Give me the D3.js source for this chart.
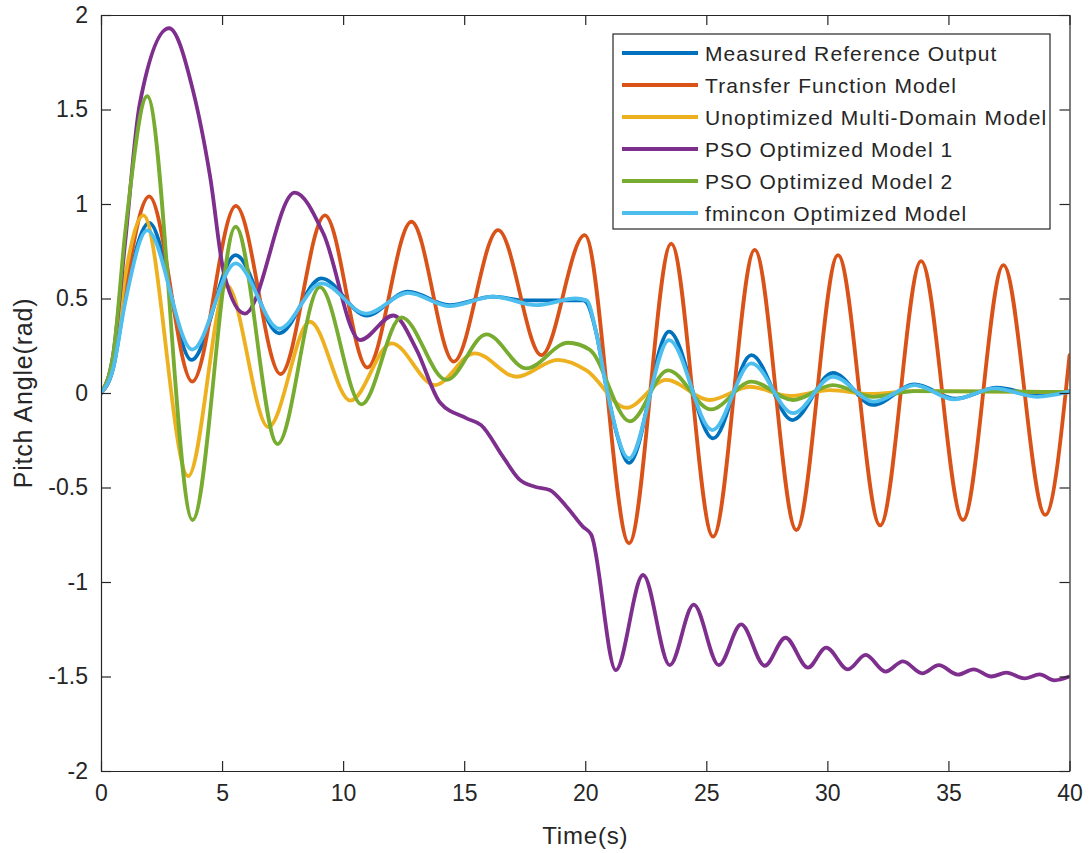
<!DOCTYPE html>
<html>
<head>
<meta charset="utf-8">
<script src="https://cdn.jsdelivr.net/npm/d3@7"></script>
<style>
  body { margin: 0; background: #fff; }
  text { font-family: 'Liberation Sans', Arial, sans-serif; fill: #262626; }
</style>
</head>
<body>
<script>
// series names, in legend / drawing order
const seriesNames = [
  'Measured Reference Output',
  'Transfer Function Model',
  'Unoptimized Multi-Domain Model',
  'PSO Optimized Model 1',
  'PSO Optimized Model 2',
  'fmincon Optimized Model',
];

// [time, pitch] points
const measured = [
  [0, 0], [0.5, 0.13], [1.0, 0.5], [1.99, 0.90], [3.74, 0.175], [5.56, 0.73], [7.36, 0.316], [9.1, 0.607],
  [10.96, 0.41], [12.68, 0.536], [14.4, 0.465], [16.2, 0.51], [17.5, 0.49],
  [19.9, 0.49], [20.05, 0.48], [20.46, 0.316], [20.87, 0.033], [21.29, -0.21],
  [21.81, -0.37], [23.46, 0.325], [25.28, -0.24], [26.86, 0.20], [28.55, -0.143],
  [30.23, 0.107], [31.88, -0.063], [33.6, 0.045], [35.3, -0.03], [37.0, 0.028],
  [38.7, -0.01], [40, 0.01],
];

const transferFn = [
  [0, 0], [0.5, 0.14], [1.0, 0.55], [1.99, 1.04], [3.77, 0.06], [5.57, 0.99], [7.42, 0.10], [9.25, 0.94],
  [11.0, 0.135], [12.82, 0.906], [14.57, 0.166], [16.4, 0.862], [18.19, 0.20],
  [19.98, 0.835], [21.81, -0.795], [23.55, 0.79], [25.28, -0.76], [27.0, 0.757],
  [28.72, -0.725], [30.44, 0.73], [32.18, -0.70], [33.87, 0.698], [35.6, -0.672],
  [37.27, 0.677], [39.0, -0.645], [40, 0.20],
];

const unoptimized = [
  [0, 0], [0.5, 0.16], [1.0, 0.62], [1.75, 0.94], [3.6, -0.44], [5.19, 0.57], [6.91, -0.18], [8.63, 0.377],
  [10.3, -0.04], [12.0, 0.263], [13.79, 0.042], [15.44, 0.21], [17.16, 0.086],
  [18.87, 0.175], [20.05, 0.12], [21.7, -0.078], [23.35, 0.069], [25.14, -0.037],
  [26.8, 0.033], [28.45, -0.016], [30.1, 0.015], [31.8, -0.005], [33.5, 0.01],
  [40, 0.005],
];

const pso1 = [
  [0, 0], [0.5, 0.2], [1.0, 0.8], [1.6, 1.53], [2.81, 1.93], [3.8, 1.6], [4.5, 1.15], [5.1, 0.62],
  [5.94, 0.42], [8.0, 1.06], [9.18, 0.845], [10.7, 0.28],
  [12.07, 0.41], [13.03, 0.23], [14.0, -0.05], [15.1, -0.134], [15.7, -0.17],
  [16.6, -0.337], [17.3, -0.46], [17.92, -0.496], [18.53, -0.513], [19.22, -0.60],
  [19.9, -0.707], [20.25, -0.75], [21.26, -1.466], [22.39, -0.963], [23.49, -1.44],
  [24.48, -1.12], [25.52, -1.44], [26.44, -1.224], [27.41, -1.443], [28.27, -1.295],
  [29.2, -1.453], [29.95, -1.347], [30.85, -1.462], [31.58, -1.386], [32.4, -1.474],
  [33.12, -1.42], [33.92, -1.483], [34.6, -1.44], [35.39, -1.49], [36.04, -1.462],
  [36.77, -1.5], [37.39, -1.48], [38.14, -1.51], [38.76, -1.489], [39.38, -1.52],
  [40, -1.50],
];

const pso2 = [
  [0, 0], [0.5, 0.2], [1.0, 0.85], [1.91, 1.57], [3.78, -0.672], [5.56, 0.88], [7.29, -0.27], [9.04, 0.56],
  [10.76, -0.06], [12.41, 0.40], [14.27, 0.069], [15.92, 0.31], [17.57, 0.13],
  [19.29, 0.266], [20.18, 0.23], [21.84, -0.15], [23.42, 0.12], [25.2, -0.087],
  [26.86, 0.06], [28.58, -0.037], [30.23, 0.042], [31.9, -0.02], [33.6, 0.01],
  [40, 0.005],
];

const fmincon = [
  [0, 0], [0.5, 0.13], [1.0, 0.48], [1.91, 0.86], [3.77, 0.23], [5.56, 0.686], [7.36, 0.34], [9.1, 0.58],
  [10.96, 0.42], [12.68, 0.53], [14.4, 0.46], [16.2, 0.51], [17.98, 0.465],
  [19.6, 0.50], [20.05, 0.49], [20.46, 0.316], [20.87, 0.03], [21.81, -0.346],
  [23.46, 0.28], [25.25, -0.196], [26.86, 0.157], [28.58, -0.107], [30.23, 0.086],
  [31.93, -0.046], [33.6, 0.042], [35.25, -0.034], [36.9, 0.025], [38.65, -0.02],
  [40, 0.007],
];

const xTicks = [0, 5, 10, 15, 20, 25, 30, 35, 40];
const yTicks = [-2, -1.5, -1, -0.5, 0, 0.5, 1, 1.5, 2];

const colors = ['#0072BD', '#D95319', '#EDB120', '#7E2F8E', '#77AC30', '#4DBEEE'];
const allSeries = [measured, transferFn, unoptimized, pso1, pso2, fmincon];

const width = 1089;
const height = 853;
const margin = { top: 15, right: 19.5, bottom: 82, left: 101 };
const innerW = width - margin.left - margin.right;
const innerH = height - margin.top - margin.bottom;

const svg = d3
  .select('body')
  .append('svg')
  .attr('width', width)
  .attr('height', height);

const g = svg
  .append('g')
  .attr('transform', `translate(${margin.left}, ${margin.top})`);

const x = d3.scaleLinear().domain([0, 40]).range([0, innerW]);
const y = d3.scaleLinear().domain([-2, 2]).range([innerH, 0]);

svg
  .append('clipPath')
  .attr('id', 'plot-clip')
  .append('rect')
  .attr('width', innerW)
  .attr('height', innerH);

// CURVES
const line = d3
  .line()
  .x((d) => x(d[0]))
  .y((d) => y(d[1]))
  .curve(d3.curveMonotoneX);

const curves = g.append('g').attr('clip-path', 'url(#plot-clip)');

allSeries.forEach((data, i) => {
  curves
    .append('path')
    .datum(data)
    .attr('d', line)
    .attr('fill', 'none')
    .attr('stroke', colors[i])
    .attr('stroke-width', 3.8)
    .attr('stroke-linejoin', 'round')
    .attr('stroke-linecap', 'round');
});

// AXES (box with inward ticks on all four sides)
const fmt = (d) => String(d);
const tickLen = 10;

const styleAxis = (sel, showLabels) => {
  sel.select('.domain').attr('stroke', '#262626').attr('stroke-width', 1.2);
  sel.selectAll('.tick line').attr('stroke', '#262626').attr('stroke-width', 1.2);
  sel
    .selectAll('.tick text')
    .attr('font-size', 23)
    .attr('fill', '#262626')
    .style('display', showLabels ? null : 'none');
};

g.append('g')
  .attr('transform', `translate(0, ${innerH})`)
  .call(d3.axisBottom(x).tickValues(xTicks).tickFormat(fmt).tickSizeInner(-tickLen).tickSizeOuter(0).tickPadding(14))
  .call((a) => styleAxis(a, true));

g.append('g')
  .call(d3.axisTop(x).tickValues(xTicks).tickFormat(fmt).tickSizeInner(-tickLen).tickSizeOuter(0))
  .call((a) => styleAxis(a, false));

g.append('g')
  .call(d3.axisLeft(y).tickValues(yTicks).tickFormat(fmt).tickSizeInner(-tickLen).tickSizeOuter(0).tickPadding(13))
  .call((a) => styleAxis(a, true));

g.append('g')
  .attr('transform', `translate(${innerW}, 0)`)
  .call(d3.axisRight(y).tickValues(yTicks).tickFormat(fmt).tickSizeInner(-tickLen).tickSizeOuter(0))
  .call((a) => styleAxis(a, false));

// AXIS LABELS
svg
  .append('text')
  .text('Time(s)')
  .attr('x', margin.left + innerW / 2)
  .attr('y', 844)
  .attr('text-anchor', 'middle')
  .attr('font-size', 24)
  .attr('letter-spacing', 0.8);

svg
  .append('text')
  .text('Pitch Angle(rad)')
  .attr('transform', `translate(32, ${margin.top + innerH / 2}) rotate(-90)`)
  .attr('text-anchor', 'middle')
  .attr('font-size', 25)
  .attr('letter-spacing', 0.8);

// LEGEND
const legend = svg.append('g').attr('transform', 'translate(613, 34)');

legend
  .append('rect')
  .attr('width', 437)
  .attr('height', 195)
  .attr('fill', '#fff')
  .attr('stroke', '#262626')
  .attr('stroke-width', 1.2);

seriesNames.forEach((name, i) => {
  const cy = 19 + i * 32;
  legend
    .append('line')
    .attr('x1', 9)
    .attr('x2', 85)
    .attr('y1', cy)
    .attr('y2', cy)
    .attr('stroke', colors[i])
    .attr('stroke-width', 3.8);
  legend
    .append('text')
    .text(name)
    .attr('x', 92)
    .attr('y', cy)
    .attr('dy', '0.36em')
    .attr('font-size', 21)
    .attr('letter-spacing', 1.1);
});
</script>
</body>
</html>
